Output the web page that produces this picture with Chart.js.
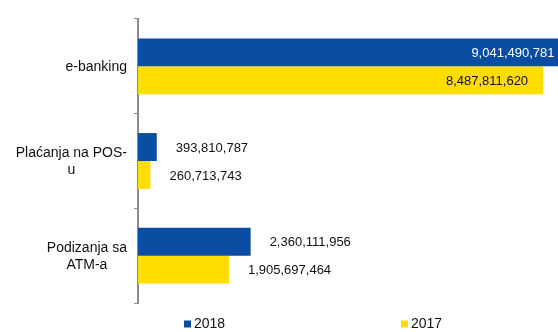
<!DOCTYPE html>
<html>
<head>
<meta charset="utf-8">
<script src="https://cdn.jsdelivr.net/npm/chart.js@4/dist/chart.umd.min.js"></script>
<style>
  html, body { margin: 0; padding: 0; background: #fff; }
  #wrap { width: 558px; height: 332px; position: relative; }
</style>
</head>
<body>
<div id="wrap"><canvas id="c" width="558" height="332"></canvas></div>
<script>
const categories = [["e-banking"], ["Plaćanja na POS-", "u"], ["Podizanja sa", "ATM-a"]];
const seriesNames = ["2018", "2017"];
const values2018 = [9041490781, 393810787, 2360111956];
const values2017 = [8487811620, 260713743, 1905697464];
const colors = ["#0A4DA2", "#FFDD00"];

const FONT = '"Liberation Sans", Arial, sans-serif';
const fmt = v => v.toLocaleString('en-US');

const categoryLabelPlugin = {
  id: 'catLabels',
  afterDraw(chart) {
    const ctx = chart.ctx;
    const scale = chart.scales.y;
    const right = scale.right - 11;
    const lineH = 17;
    ctx.save();
    ctx.font = '14px ' + FONT;
    ctx.fillStyle = '#111111';
    ctx.textBaseline = 'middle';
    ctx.textAlign = 'center';
    chart.data.labels.forEach((lines, i) => {
      const y = scale.getPixelForValue(i);
      const blockW = Math.max(...lines.map(l => ctx.measureText(l).width));
      const cx = right - blockW / 2;
      const y0 = y - (lines.length - 1) * lineH / 2;
      lines.forEach((l, k) => ctx.fillText(l, cx, y0 + k * lineH + 1));
    });
    ctx.restore();
  }
};

const labelPlugin = {
  id: 'barLabels',
  afterDatasetsDraw(chart) {
    const ctx = chart.ctx;
    ctx.save();
    ctx.font = '13px ' + FONT;
    ctx.textBaseline = 'middle';
    chart.data.datasets.forEach((ds, di) => {
      const meta = chart.getDatasetMeta(di);
      meta.data.forEach((el, i) => {
        const txt = fmt(ds.data[i]);
        const w = el.x - el.base;
        if (w > 200) {
          ctx.textAlign = 'right';
          ctx.fillStyle = di === 0 ? '#ffffff' : '#111111';
          ctx.fillText(txt, el.x - 15, el.y + 1);
        } else {
          ctx.textAlign = 'left';
          ctx.fillStyle = '#111111';
          ctx.fillText(txt, el.x + 19, el.y + 1);
        }
      });
    });
    ctx.restore();
  }
};

const legendPlugin = {
  id: 'customLegend',
  afterDraw(chart) {
    const ctx = chart.ctx;
    const xs = [184, 401];
    ctx.save();
    ctx.font = '14px ' + FONT;
    ctx.textBaseline = 'middle';
    ctx.textAlign = 'left';
    chart.data.datasets.forEach((ds, di) => {
      ctx.fillStyle = ds.backgroundColor;
      ctx.fillRect(xs[di], 320.5, 7, 7);
      ctx.fillStyle = '#111111';
      ctx.fillText(ds.label, xs[di] + 10, 324.5);
    });
    ctx.restore();
  }
};

new Chart(document.getElementById('c'), {
  type: 'bar',
  data: {
    labels: categories,
    datasets: [
      { label: seriesNames[0], data: values2018, backgroundColor: colors[0], borderWidth: 0 },
      { label: seriesNames[1], data: values2017, backgroundColor: colors[1], borderWidth: 0 }
    ]
  },
  options: {
    indexAxis: 'y',
    responsive: false,
    animation: false,
    devicePixelRatio: 1,
    layout: { padding: { top: 19, bottom: 29, left: 0, right: 0 } },
    datasets: { bar: { categoryPercentage: 0.59, barPercentage: 1.0 } },
    plugins: { legend: { display: false }, tooltip: { enabled: false } },
    scales: {
      x: { display: false, min: 0, max: 8.8e9 },
      y: {
        afterFit(s) { s.width = 138; },
        border: { display: true, color: '#8c8c8c', width: 2 },
        grid: { drawOnChartArea: false, drawTicks: true, tickLength: 4, color: '#8c8c8c', offset: true },
        ticks: { display: false }
      }
    }
  },
  plugins: [labelPlugin, categoryLabelPlugin, legendPlugin]
});
</script>
</body>
</html>
